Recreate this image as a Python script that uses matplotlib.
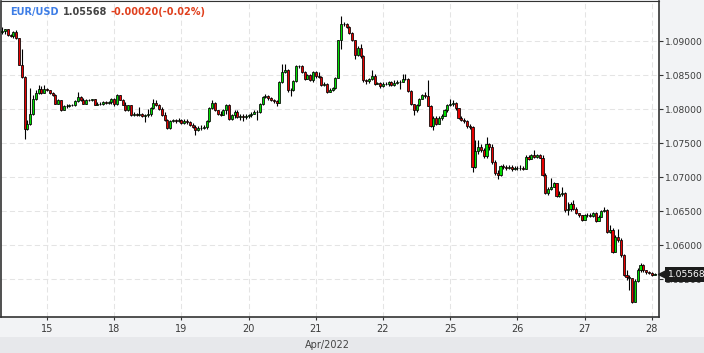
import matplotlib
matplotlib.use("Agg")
import matplotlib.pyplot as plt
from matplotlib.patches import Rectangle
from matplotlib.transforms import blended_transform_factory

# hourly EUR/USD candles, 14 Apr 08:00 -> 28 Apr 01:00 (weekends skipped)
first_open = 1.09138
closes = [
    1.09152, 1.09177, 1.09089, 1.09074, 1.09138, 1.09049, 1.08657, 1.08476, 1.07717, 1.07781,
    1.07937, 1.08158, 1.08241, 1.08305, 1.08246, 1.08295, 1.08290, 1.08241, 1.08206, 1.08084,
    1.08133, 1.07986, 1.08045, 1.08050, 1.08060, 1.08065, 1.08118, 1.08182, 1.08143, 1.08084,
    1.08143, 1.08133, 1.08148, 1.08070, 1.08084, 1.08079, 1.08108, 1.08094, 1.08104, 1.08158,
    1.08074, 1.08206, 1.08143, 1.08070, 1.07986, 1.08060, 1.07913, 1.07927, 1.07922, 1.07927,
    1.07898, 1.07913, 1.07937, 1.08025, 1.08099, 1.08060, 1.08010, 1.07913, 1.07839, 1.07726,
    1.07824, 1.07839, 1.07829, 1.07839, 1.07800, 1.07824, 1.07810, 1.07766, 1.07741, 1.07692,
    1.07731, 1.07726, 1.07741, 1.07829, 1.08025, 1.08099, 1.07986, 1.07937, 1.07922, 1.07996,
    1.08060, 1.07854, 1.07913, 1.07962, 1.07888, 1.07903, 1.07888, 1.07898, 1.07913, 1.07937,
    1.07966, 1.07962, 1.08074, 1.08177, 1.08202, 1.08172, 1.08143, 1.08118, 1.08099, 1.08403,
    1.08550, 1.08584, 1.08280, 1.08290, 1.08417, 1.08643, 1.08638, 1.08550, 1.08452, 1.08510,
    1.08427, 1.08545, 1.08486, 1.08476, 1.08354, 1.08378, 1.08260, 1.08290, 1.08314, 1.08466,
    1.09015, 1.09260, 1.09250, 1.09211, 1.09128, 1.09015, 1.08795, 1.08907, 1.08780, 1.08427,
    1.08412, 1.08447, 1.08496, 1.08378, 1.08388, 1.08339, 1.08368, 1.08378, 1.08398, 1.08354,
    1.08393, 1.08403, 1.08407, 1.08447, 1.08447, 1.08270, 1.08074, 1.07986, 1.08060, 1.08158,
    1.08206, 1.08192, 1.08055, 1.07756, 1.07878, 1.07790, 1.07878, 1.07908, 1.07986, 1.08070,
    1.08074, 1.08094, 1.08015, 1.07878, 1.07849, 1.07824, 1.07751, 1.07741, 1.07153, 1.07388,
    1.07447, 1.07398, 1.07310, 1.07486, 1.07447, 1.07227, 1.07055, 1.07031, 1.07163, 1.07153,
    1.07129, 1.07153, 1.07114, 1.07143, 1.07129, 1.07138, 1.07124, 1.07300, 1.07271, 1.07320,
    1.07300, 1.07320, 1.07290, 1.07031, 1.06771, 1.06820, 1.06859, 1.06908, 1.06722, 1.06751,
    1.06761, 1.06516, 1.06526, 1.06604, 1.06536, 1.06467, 1.06443, 1.06369, 1.06438, 1.06443,
    1.06428, 1.06467, 1.06359, 1.06418, 1.06501, 1.06516, 1.06198, 1.06222, 1.05904, 1.06115,
    1.06075, 1.05855, 1.05561, 1.05536, 1.05512, 1.05169, 1.05477, 1.05634, 1.05708, 1.05634,
    1.05600, 1.05595, 1.05561, 1.05568,
]
highs = [
    1.09211, 1.09186, 1.09186, 1.09113, 1.09152, 1.09162, 1.09049, 1.08893, 1.08486, 1.07839,
    1.08319, 1.08206, 1.08280, 1.08354, 1.08339, 1.08354, 1.08319, 1.08290, 1.08256, 1.08221,
    1.08158, 1.08143, 1.08060, 1.08074, 1.08074, 1.08084, 1.08143, 1.08256, 1.08192, 1.08167,
    1.08158, 1.08158, 1.08158, 1.08158, 1.08108, 1.08108, 1.08118, 1.08118, 1.08123, 1.08172,
    1.08167, 1.08231, 1.08216, 1.08158, 1.08108, 1.08070, 1.08060, 1.07962, 1.07952, 1.08035,
    1.07947, 1.07937, 1.08010, 1.08035, 1.08153, 1.08133, 1.08084, 1.08035, 1.07962, 1.07864,
    1.07839, 1.07854, 1.07854, 1.07878, 1.07859, 1.07864, 1.07864, 1.07829, 1.07800, 1.07766,
    1.07751, 1.07766, 1.07766, 1.07849, 1.08035, 1.08133, 1.08108, 1.07996, 1.07971, 1.08010,
    1.08084, 1.08074, 1.07937, 1.07986, 1.07996, 1.07937, 1.07937, 1.07927, 1.07937, 1.07962,
    1.07986, 1.07996, 1.08094, 1.08192, 1.08221, 1.08211, 1.08182, 1.08158, 1.08143, 1.08417,
    1.08672, 1.08672, 1.08599, 1.08319, 1.08437, 1.08652, 1.08657, 1.08648, 1.08564, 1.08525,
    1.08525, 1.08559, 1.08559, 1.08545, 1.08486, 1.08398, 1.08388, 1.08319, 1.08329, 1.08476,
    1.09025, 1.09368, 1.09280, 1.09270, 1.09221, 1.09138, 1.09025, 1.08927, 1.08966, 1.08795,
    1.08452, 1.08466, 1.08584, 1.08515, 1.08407, 1.08403, 1.08398, 1.08403, 1.08412, 1.08417,
    1.08427, 1.08427, 1.08427, 1.08515, 1.08515, 1.08466, 1.08290, 1.08084, 1.08074, 1.08172,
    1.08221, 1.08256, 1.08437, 1.08065, 1.07898, 1.07898, 1.07898, 1.07927, 1.08010, 1.08084,
    1.08158, 1.08133, 1.08104, 1.08025, 1.07898, 1.07869, 1.07839, 1.07781, 1.07751, 1.07545,
    1.07545, 1.07496, 1.07423, 1.07594, 1.07506, 1.07486, 1.07251, 1.07104, 1.07178, 1.07188,
    1.07178, 1.07178, 1.07178, 1.07168, 1.07168, 1.07173, 1.07163, 1.07325, 1.07325, 1.07339,
    1.07398, 1.07339, 1.07339, 1.07325, 1.07055, 1.06849, 1.06982, 1.06933, 1.06918, 1.06800,
    1.06859, 1.06785, 1.06638, 1.06638, 1.06663, 1.06555, 1.06477, 1.06443, 1.06457, 1.06477,
    1.06467, 1.06491, 1.06487, 1.06443, 1.06516, 1.06565, 1.06526, 1.06296, 1.06247, 1.06144,
    1.06237, 1.06100, 1.05869, 1.05634, 1.05561, 1.05487, 1.05497, 1.05658, 1.05732, 1.05722,
    1.05625, 1.05625, 1.05610, 1.05595,
]
lows = [
    1.09113, 1.09103, 1.09079, 1.09064, 1.09054, 1.09040, 1.08648, 1.08466, 1.07570, 1.07692,
    1.07766, 1.07913, 1.08133, 1.08231, 1.08231, 1.08241, 1.08270, 1.08231, 1.08192, 1.08074,
    1.08074, 1.07976, 1.07986, 1.08025, 1.08035, 1.08045, 1.08045, 1.08108, 1.08123, 1.08074,
    1.08074, 1.08118, 1.08123, 1.08060, 1.08060, 1.08060, 1.08060, 1.08074, 1.08074, 1.08084,
    1.08055, 1.08060, 1.08133, 1.08060, 1.07971, 1.07976, 1.07898, 1.07898, 1.07898, 1.07903,
    1.07888, 1.07815, 1.07888, 1.07903, 1.08010, 1.08045, 1.07996, 1.07898, 1.07829, 1.07717,
    1.07717, 1.07815, 1.07800, 1.07810, 1.07781, 1.07781, 1.07790, 1.07751, 1.07726, 1.07618,
    1.07677, 1.07692, 1.07717, 1.07717, 1.07815, 1.08001, 1.07976, 1.07913, 1.07898, 1.07913,
    1.07927, 1.07839, 1.07839, 1.07878, 1.07878, 1.07849, 1.07829, 1.07864, 1.07878, 1.07888,
    1.07927, 1.07839, 1.07947, 1.08065, 1.08162, 1.08143, 1.08123, 1.08094, 1.08055, 1.08089,
    1.08388, 1.08535, 1.08256, 1.08202, 1.08270, 1.08403, 1.08608, 1.08535, 1.08437, 1.08442,
    1.08412, 1.08407, 1.08466, 1.08461, 1.08339, 1.08344, 1.08246, 1.08251, 1.08275, 1.08305,
    1.08456, 1.08893, 1.09226, 1.09191, 1.09113, 1.09000, 1.08745, 1.08780, 1.08760, 1.08403,
    1.08378, 1.08388, 1.08427, 1.08363, 1.08368, 1.08319, 1.08329, 1.08354, 1.08349, 1.08339,
    1.08344, 1.08378, 1.08305, 1.08398, 1.08427, 1.08256, 1.08060, 1.07913, 1.07957, 1.08045,
    1.08148, 1.08172, 1.08045, 1.07741, 1.07692, 1.07776, 1.07781, 1.07849, 1.07898, 1.07962,
    1.08055, 1.08055, 1.07996, 1.07859, 1.07829, 1.07800, 1.07731, 1.07717, 1.07080, 1.07129,
    1.07349, 1.07374, 1.07290, 1.07276, 1.07398, 1.07202, 1.07031, 1.06967, 1.07016, 1.07114,
    1.07104, 1.07119, 1.07094, 1.07104, 1.07104, 1.07109, 1.07099, 1.07119, 1.07251, 1.07261,
    1.07280, 1.07290, 1.07276, 1.07016, 1.06751, 1.06736, 1.06810, 1.06849, 1.06702, 1.06702,
    1.06722, 1.06491, 1.06443, 1.06506, 1.06516, 1.06452, 1.06418, 1.06349, 1.06369, 1.06418,
    1.06408, 1.06418, 1.06345, 1.06349, 1.06408, 1.06487, 1.06183, 1.06173, 1.05879, 1.05977,
    1.06051, 1.05830, 1.05546, 1.05487, 1.05340, 1.05154, 1.05169, 1.05463, 1.05610, 1.05610,
    1.05575, 1.05575, 1.05546, 1.05556,
]

day_labels = ["15", "18", "19", "20", "21", "22", "25", "26", "27", "28"]
day_index = [16, 40, 64, 88, 112, 136, 160, 184, 208, 232]  # candle index of 00:00
price_ticks = [1.055, 1.060, 1.065, 1.070, 1.075, 1.080, 1.085, 1.090]

symbol = "EUR/USD"
last_price = "1.05568"
change = "-0.00020(-0.02%)"

opens = [first_open] + closes[:-1]
n = len(closes)
idx = list(range(n))

plt.rcParams["font.family"] = "DejaVu Sans"
fig = plt.figure(figsize=(7.04, 3.53), dpi=100, facecolor="#f2f3f5")
ax = fig.add_axes([1 / 704, 1 - 317 / 353, 658 / 704, 316.5 / 353])
ax.set_facecolor("white")

# bottom date band
fig.patches.append(Rectangle((0, 0), 1, 16 / 353, transform=fig.transFigure,
                             facecolor="#e7e8eb", edgecolor="none", zorder=0))

# candles
lo = [min(l, o, c) for l, o, c in zip(lows, opens, closes)]
hi = [max(h, o, c) for h, o, c in zip(highs, opens, closes)]
ax.vlines(idx, lo, hi, color="black", linewidth=0.8, zorder=2)

colors = []
for o, c in zip(opens, closes):
    colors.append("#00dd00" if c > o else "#e60000")
bottoms = [min(o, c) for o, c in zip(opens, closes)]
heights = [max(abs(c - o), 0.000015) for o, c in zip(opens, closes)]
ax.bar(idx, heights, bottom=bottoms, width=0.75, color=colors,
       edgecolor="black", linewidth=0.55, zorder=3)

# last price dashed line
ax.hlines(closes[-1], n - 1, 234.6, colors="#555555", linestyles=(0, (2, 2)),
          linewidth=0.6, zorder=1)

ax.set_xlim(-0.43, 234.6)
ax.set_ylim(1.04941, 1.09603)

ax.set_xticks(day_index)
ax.set_xticklabels(day_labels)
ax.set_yticks(price_ticks)
ax.set_yticklabels(["%.5f" % p for p in price_ticks])
ax.yaxis.tick_right()

ax.grid(True, color="#e4e4e4", linestyle=(0, (5, 3)), linewidth=0.75, zorder=0)
ax.set_axisbelow(True)

ax.tick_params(axis="x", length=2.5, width=0.8, color="#333333", pad=2.5,
               labelsize=7, labelcolor="#3a3a3a")
ax.tick_params(axis="y", length=3, width=0.8, color="#333333", pad=1,
               labelsize=6.6, labelcolor="#3a3a3a")

for side in ["left", "bottom", "right"]:
    ax.spines[side].set_color("#333333")
    ax.spines[side].set_linewidth(1.2)
ax.spines["top"].set_color("#333333")
ax.spines["top"].set_linewidth(0.8)

# last price tag on the price axis
trans = blended_transform_factory(ax.transAxes, ax.transData)
ax.text(1.013, closes[-1], last_price, transform=trans, ha="left", va="center",
        color="white", fontsize=6.6, clip_on=False, zorder=10,
        bbox=dict(boxstyle="square,pad=0.3", facecolor="#1c1c1c", edgecolor="none"))
ax.plot([1.004], [closes[-1]], marker="<", markersize=6, color="#1c1c1c",
        transform=trans, clip_on=False, zorder=10)

# header, pieces placed one after another
ty = 1 - 11.7 / 353
renderer = fig.canvas.get_renderer()
x = 10.5
for txt, col in [(symbol, "#3d7de6"), (last_price, "#444444"), (change, "#e0401e")]:
    t = fig.text(x / 704, ty, txt, color=col, fontsize=7, fontweight="bold",
                 ha="left", va="center")
    x = t.get_window_extent(renderer).x1 + 3.5

fig.text(327 / 704, 8 / 353, "Apr/2022", color="#444444", fontsize=7,
         ha="center", va="center")

fig.savefig("out.png", dpi=100, facecolor=fig.get_facecolor())
